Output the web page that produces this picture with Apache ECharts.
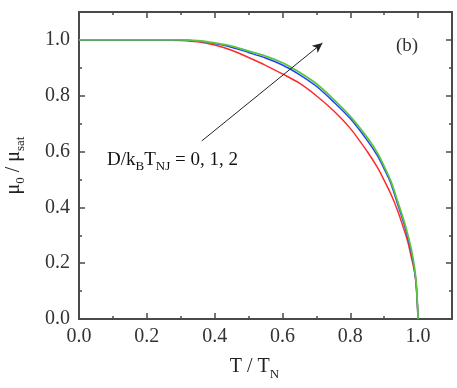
<!DOCTYPE html>
<html>
<head>
<meta charset="utf-8">
<script src="https://cdn.jsdelivr.net/npm/echarts@6/dist/echarts.min.js"></script>
<style>
  html, body { margin: 0; padding: 0; background: #fff; }
  #chart { width: 457px; height: 388px; }
</style>
</head>
<body>
<div id="chart"></div>
<script>
// reduced temperature T / T_N
const temps = [0, 0.1, 0.2, 0.25, 0.3, 0.35, 0.4, 0.45, 0.5, 0.55, 0.6, 0.65, 0.7, 0.75,
  0.8, 0.85, 0.88, 0.9, 0.92, 0.94, 0.96, 0.97, 0.98, 0.99, 0.995, 1.0];

// mu_0 / mu_sat for D/kB T_NJ = 0, 1, 2
const magD0 = [1, 1, 1, 1.0, 0.998, 0.993, 0.982, 0.963, 0.937, 0.909, 0.878, 0.845, 0.8, 0.747,
  0.683, 0.6, 0.543, 0.497, 0.447, 0.387, 0.315, 0.275, 0.222, 0.165, 0.11, 0];
const magD1 = [1, 1, 1, 1, 1.0, 0.996, 0.987, 0.974, 0.955, 0.935, 0.91, 0.876, 0.834, 0.779,
  0.718, 0.64, 0.585, 0.538, 0.485, 0.41, 0.335, 0.29, 0.24, 0.17, 0.115, 0];
const magD2 = [1, 1, 1, 1, 1.0, 0.997, 0.989, 0.978, 0.96, 0.942, 0.918, 0.884, 0.843, 0.788,
  0.726, 0.65, 0.595, 0.547, 0.493, 0.42, 0.345, 0.3, 0.25, 0.18, 0.12, 0];

const tickLabels = ["0.0", "0.2", "0.4", "0.6", "0.8", "1.0"];

// arrow: from [T, mu] to [T, mu]
const arrowFrom = [0.362, 0.638];
const arrowTo = [0.718, 0.989];

const axisColor = "#4a4a4a";
const serif = "Liberation Serif, Times New Roman, serif";

const pairs = (ys) => temps.map((t, i) => [t, ys[i]]);
const fmt = (v) => {
  const i = Math.round(v / 0.2);
  return Math.abs(v - i * 0.2) < 1e-6 && i < tickLabels.length ? tickLabels[i] : "";
};

const chart = echarts.init(document.getElementById("chart"));

const majorAxis = (pos, withLabel, isX) => ({
  type: "value",
  position: pos,
  min: 0,
  max: 1.1,
  interval: 0.2,
  axisLine: { show: true, onZero: false, lineStyle: { color: axisColor, width: 2 } },
  axisTick: { show: true, inside: true, length: 6, lineStyle: { color: axisColor, width: 1.5 } },
  axisLabel: {
    show: withLabel,
    margin: isX ? 8 : 9,
    color: "#333",
    fontSize: 20,
    fontFamily: serif,
    formatter: fmt,
  },
  splitLine: { show: false },
});

const minorAxis = (pos) => ({
  type: "value",
  position: pos,
  min: 0,
  max: 1.1,
  interval: 0.1,
  axisLine: { show: false, onZero: false },
  axisTick: { show: true, inside: true, length: 3, lineStyle: { color: axisColor, width: 1.5 } },
  axisLabel: { show: false },
  splitLine: { show: false },
});

const xMain = majorAxis("bottom", true, true);
xMain.name = "{m|T / T}{s|N}";
xMain.nameLocation = "middle";
xMain.nameGap = 34;
xMain.nameTextStyle = {
  padding: [0, 22, 0, 0],
  rich: {
    m: { fontSize: 20, fontFamily: serif, color: "#222", lineHeight: 28 },
    s: { fontSize: 13, fontFamily: serif, color: "#222", verticalAlign: "bottom" },
  },
};

const yMain = majorAxis("left", true, false);
yMain.name = "{m|μ}{s|0}{m| / μ}{s|sat}";
yMain.nameLocation = "middle";
yMain.nameRotate = 90;
yMain.nameGap = 52;
yMain.nameTextStyle = {
  rich: {
    m: { fontSize: 20, fontFamily: serif, color: "#222", lineHeight: 27 },
    s: { fontSize: 13, fontFamily: serif, color: "#222", verticalAlign: "bottom" },
  },
};

const option = {
  animation: false,
  backgroundColor: "#fff",
  grid: { left: 79, right: 5, top: 12, bottom: 69, containLabel: false, outerBoundsMode: "none" },
  xAxis: [xMain, minorAxis("bottom"), majorAxis("top", false, true), minorAxis("top")],
  yAxis: [yMain, minorAxis("left"), majorAxis("right", false, false), minorAxis("right")],
  graphic: [
    {
      type: "text",
      left: 396,
      top: 37,
      style: { text: "(b)", font: "19px " + serif, fill: "#333" },
    },
    {
      type: "text",
      left: 107,
      top: 151,
      style: {
        text: "{m|D/k}{s|B}{m|T}{s|NJ}{m| = 0, 1, 2}",
        rich: {
          m: { fontSize: 19, fontFamily: serif, fill: "#111", lineHeight: 26 },
          s: { fontSize: 13, fontFamily: serif, fill: "#111", verticalAlign: "bottom" },
        },
      },
    },
  ],
  series: [
    {
      name: "D=0",
      type: "line",
      data: pairs(magD0),
      showSymbol: false,
      smooth: 0.3,
      lineStyle: { color: "#ff2a2a", width: 1.5 },
      markLine: {
        silent: true,
        symbol: ["none", "arrow"],
        symbolSize: [7, 10],
        label: { show: false },
        lineStyle: { color: "#222", width: 1, type: "solid" },
        itemStyle: { color: "#222" },
        data: [[{ coord: arrowFrom }, { coord: arrowTo }]],
      },
    },
    {
      name: "D=1",
      type: "line",
      data: pairs(magD1),
      showSymbol: false,
      smooth: 0.3,
      lineStyle: { color: "#2040ff", width: 1.5 },
    },
    {
      name: "D=2",
      type: "line",
      data: pairs(magD2),
      showSymbol: false,
      smooth: 0.3,
      lineStyle: { color: "#5cc440", width: 1.8 },
    },
  ],
};

chart.setOption(option);
</script>
</body>
</html>
